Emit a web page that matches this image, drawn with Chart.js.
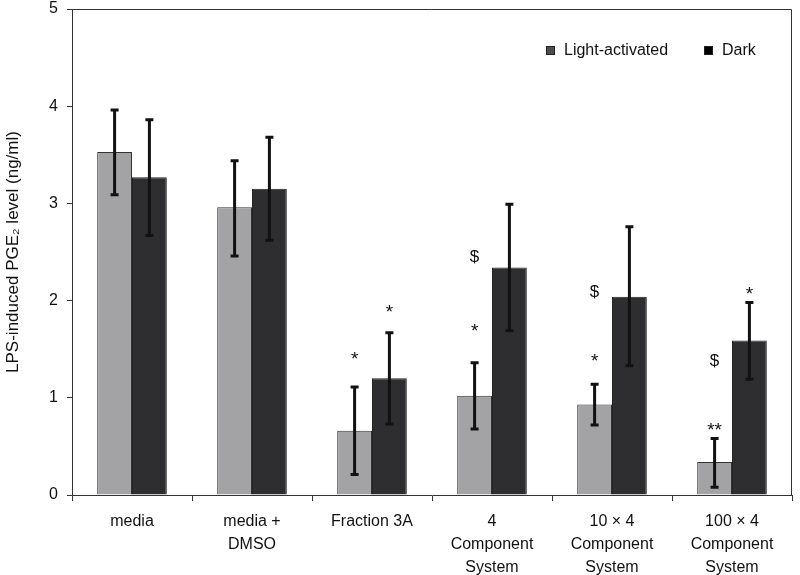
<!DOCTYPE html>
<html>
<head>
<meta charset="utf-8">
<script src="https://cdn.jsdelivr.net/npm/chart.js@4.4.1/dist/chart.umd.min.js"></script>
<style>
  html, body { margin: 0; padding: 0; background: #fff; }
  #wrap { width: 800px; height: 575px; }
</style>
</head>
<body>
<div id="wrap"><canvas id="barChart" width="800" height="575"></canvas></div>
<script>
// categories and values
const categories = [
  ['media'],
  ['media +', 'DMSO'],
  ['Fraction 3A'],
  ['4', 'Component', 'System'],
  ['10 \u00d7 4', 'Component', 'System'],
  ['100 \u00d7 4', 'Component', 'System']
];
const yTicks = [0, 1, 2, 3, 4, 5];

const lightMean = [3.53, 2.96, 0.66, 1.02, 0.93, 0.34];
const lightLow  = [3.09, 2.46, 0.21, 0.68, 0.72, 0.08];
const lightHigh = [3.96, 3.44, 1.11, 1.36, 1.14, 0.58];

const darkMean = [3.27, 3.15, 1.20, 2.34, 2.04, 1.59];
const darkLow  = [2.67, 2.62, 0.73, 1.69, 1.33, 1.19];
const darkHigh = [3.86, 3.68, 1.67, 2.99, 2.76, 1.98];

// significance marks (text, and the level they sit at)
const lightStar   = ['', '', '*', '*', '*', '**'];
const lightStarAt = [null, null, 1.45, 1.74, 1.43, 0.72];
const lightDollar   = ['', '', '', '$', '$', '$'];
const lightDollarAt = [null, null, null, 2.46, 2.10, 1.39];
const darkStar   = ['', '', '*', '', '', '*'];
const darkStarAt = [null, null, 1.93, null, null, 2.12];

const FONT = '"Liberation Sans", Arial, Helvetica, sans-serif';
const LIGHT = '#a3a3a6';
const DARK = '#2e2e30';

const errorBars = {
  id: 'errorBars',
  afterDatasetsDraw(chart) {
    const ctx = chart.ctx;
    const y = chart.scales.y;
    const sets = [[lightLow, lightHigh], [darkLow, darkHigh]];
    ctx.save();
    ctx.strokeStyle = '#111';
    ctx.lineWidth = 3;
    sets.forEach((s, i) => {
      chart.getDatasetMeta(i).data.forEach((bar, j) => {
        const lo = y.getPixelForValue(s[0][j]);
        const hi = y.getPixelForValue(s[1][j]);
        ctx.beginPath();
        ctx.moveTo(bar.x, lo); ctx.lineTo(bar.x, hi);
        ctx.moveTo(bar.x - 4, lo); ctx.lineTo(bar.x + 4, lo);
        ctx.moveTo(bar.x - 4, hi); ctx.lineTo(bar.x + 4, hi);
        ctx.stroke();
      });
    });

    // marks
    ctx.fillStyle = '#111';
    ctx.textAlign = 'center';
    ctx.textBaseline = 'alphabetic';
    const marks = [
      [0, lightStar, lightStarAt, 11],
      [0, lightDollar, lightDollarAt, 6],
      [1, darkStar, darkStarAt, 11]
    ];
    marks.forEach(([ds, txt, at, off]) => {
      const meta = chart.getDatasetMeta(ds);
      txt.forEach((t, j) => {
        if (!t) return;
        ctx.font = (t === '$' ? '17px ' : '19px ') + FONT;
        ctx.fillText(t, meta.data[j].x, y.getPixelForValue(at[j]) + off);
      });
    });
    ctx.restore();
  }
};

const frameAndLegend = {
  id: 'frameAndLegend',
  afterDraw(chart) {
    const ctx = chart.ctx;
    const a = chart.chartArea;
    ctx.save();
    ctx.strokeStyle = '#333';
    ctx.lineWidth = 1;
    ctx.beginPath();
    ctx.moveTo(a.left, a.top + 0.5);
    ctx.lineTo(a.right - 0.5, a.top + 0.5);
    ctx.lineTo(a.right - 0.5, a.bottom);
    ctx.stroke();

    // legend
    const items = [
      { label: chart.data.datasets[0].label, fill: '#4c4c4e', x: a.right - 246 },
      { label: chart.data.datasets[1].label, fill: '#000', x: a.right - 88 }
    ];
    ctx.font = '16px ' + FONT;
    ctx.textBaseline = 'middle';
    ctx.textAlign = 'left';
    items.forEach(it => {
      const cy = a.top + 41;
      ctx.fillStyle = it.fill;
      ctx.fillRect(it.x, cy - 4, 9, 9);
      ctx.strokeStyle = '#222';
      ctx.strokeRect(it.x + 0.5, cy - 3.5, 8, 8);
      ctx.fillStyle = '#111';
      ctx.fillText(it.label, it.x + 18, cy + 1);
    });
    ctx.restore();
  }
};

new Chart(document.getElementById('barChart'), {
  type: 'bar',
  data: {
    labels: categories,
    datasets: [
      {
        label: 'Light-activated',
        data: lightMean,
        backgroundColor: LIGHT,
        borderColor: '#333',
        borderWidth: 1,
        categoryPercentage: 0.58,
        barPercentage: 1.0
      },
      {
        label: 'Dark',
        data: darkMean,
        backgroundColor: DARK,
        borderColor: '#222',
        borderWidth: 1,
        categoryPercentage: 0.58,
        barPercentage: 1.0
      }
    ]
  },
  options: {
    responsive: false,
    animation: false,
    layout: { padding: { top: 9, right: 8, left: 0, bottom: 0 } },
    plugins: {
      legend: { display: false },
      tooltip: { enabled: false }
    },
    scales: {
      x: {
        grid: { display: true, drawOnChartArea: false, offset: true, tickLength: 6, color: '#333' },
        border: { color: '#333', width: 1 },
        ticks: {
          color: '#111',
          font: { family: FONT, size: 16, lineHeight: 1.45 },
          padding: 9,
          maxRotation: 0,
          autoSkip: false
        },
        afterFit(scale) { scale.height = 80; }
      },
      y: {
        min: 0,
        max: 5,
        afterBuildTicks(scale) { scale.ticks = yTicks.map(v => ({ value: v })); },
        grid: { display: true, drawOnChartArea: false, tickLength: 5, color: '#333' },
        border: { color: '#333', width: 1 },
        ticks: {
          color: '#111',
          font: { family: FONT, size: 16 },
          padding: 9
        },
        title: {
          display: true,
          text: 'LPS-induced PGE\u2082 level (ng/ml)',
          color: '#111',
          font: { family: FONT, size: 17 },
          padding: { top: 3, bottom: 0 }
        },
        afterFit(scale) {
          scale.width = 72;
          scale.paddingTop = 0;
          scale.paddingBottom = 0;
        }
      }
    }
  },
  plugins: [errorBars, frameAndLegend]
});
</script>
</body>
</html>
